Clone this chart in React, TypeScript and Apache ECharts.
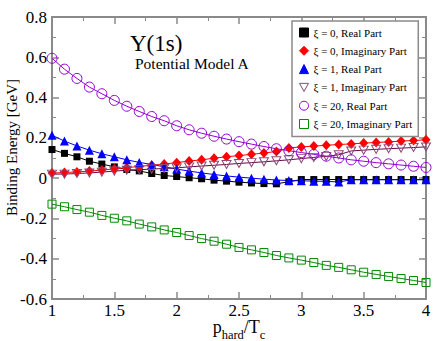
import React, { useEffect, useRef } from 'react';
import * as echarts from 'echarts';

const xValues = [1.0, 1.1, 1.2, 1.3, 1.4, 1.5, 1.6, 1.7, 1.8, 1.9, 2.0, 2.1, 2.2, 2.3, 2.4, 2.5, 2.6, 2.7, 2.8, 2.9, 3.0, 3.1, 3.2, 3.3, 3.4, 3.5, 3.6, 3.7, 3.8, 3.9, 4.0];

const xi0Real = [0.142, 0.123, 0.106, 0.084, 0.070, 0.056, 0.043, 0.036, 0.023, 0.013, 0.008, 0.002, -0.003, -0.010, -0.015, -0.020, -0.024, -0.027, -0.028, -0.018, -0.007, -0.007, -0.007, -0.007, -0.007, -0.007, -0.007, -0.007, -0.007, -0.007, -0.007];
const xi0Imag = [0.025, 0.028, 0.031, 0.035, 0.040, 0.046, 0.052, 0.058, 0.064, 0.070, 0.077, 0.085, 0.091, 0.099, 0.106, 0.112, 0.118, 0.125, 0.132, 0.150, 0.155, 0.159, 0.163, 0.167, 0.170, 0.174, 0.177, 0.180, 0.184, 0.187, 0.190];
const xi1Real = [0.213, 0.184, 0.160, 0.139, 0.121, 0.106, 0.091, 0.078, 0.068, 0.056, 0.045, 0.035, 0.026, 0.018, 0.011, 0.005, 0.000, -0.005, -0.009, -0.012, -0.013, -0.015, -0.016, -0.019, -0.008, -0.008, -0.008, -0.008, -0.008, -0.008, -0.008];
const xi1Imag = [0.020, 0.020, 0.023, 0.026, 0.030, 0.035, 0.039, 0.042, 0.045, 0.048, 0.051, 0.056, 0.060, 0.064, 0.068, 0.073, 0.077, 0.081, 0.086, 0.091, 0.097, 0.103, 0.108, 0.116, 0.135, 0.139, 0.143, 0.146, 0.149, 0.152, 0.155];
const xi20Real = [0.595, 0.541, 0.495, 0.452, 0.419, 0.386, 0.357, 0.331, 0.306, 0.285, 0.260, 0.240, 0.223, 0.208, 0.194, 0.181, 0.169, 0.157, 0.146, 0.136, 0.127, 0.118, 0.109, 0.100, 0.091, 0.084, 0.077, 0.071, 0.065, 0.059, 0.053];
const xi20Imag = [-0.129, -0.142, -0.156, -0.169, -0.185, -0.199, -0.212, -0.228, -0.242, -0.257, -0.270, -0.285, -0.300, -0.313, -0.328, -0.344, -0.356, -0.369, -0.384, -0.396, -0.407, -0.419, -0.433, -0.443, -0.455, -0.467, -0.478, -0.488, -0.498, -0.508, -0.518];

const seriesNames = [
  'ξ = 0, Real Part',
  'ξ = 0, Imaginary Part',
  'ξ = 1, Real Part',
  'ξ = 1, Imaginary Part',
  'ξ = 20, Real Part',
  'ξ = 20, Imaginary Part',
];

const FONT = 'Liberation Serif';
const AXIS_GRAY = '#8a8a8a';
const DOWN_TRI = 'path://M0,0L10,0L5,9Z';

const pairs = (ys: number[]) => xValues.map((x, i) => [x, ys[i]]);

export default function App() {
  const ref = useRef<HTMLDivElement>(null);
  useEffect(() => {
    if (!ref.current) return;
    document.body.style.margin = '0';
    const chart = echarts.init(ref.current, undefined, { renderer: 'svg' });

    const tickCommon = {
      axisLine: { show: false, onZero: false },
      axisTick: { show: true, inside: true, length: 7, lineStyle: { color: AXIS_GRAY, width: 1.5 } },
      minorTick: { show: true, splitNumber: 2, length: 4, lineStyle: { color: AXIS_GRAY, width: 1 } },
      splitLine: { show: false },
      minorSplitLine: { show: false },
    };

    const mk = (
      name: string,
      data: number[],
      color: string,
      symbol: string,
      size: number | number[],
      hollow: boolean,
      lineColor?: string
    ) => ({
      name,
      type: 'line',
      data: pairs(data),
      symbol,
      symbolSize: size,
      showAllSymbol: true,
      lineStyle: { color: lineColor || color, width: 1 },
      itemStyle: hollow
        ? { color: 'rgba(255,255,255,0)', borderColor: color, borderWidth: 1 }
        : { color, borderColor: color, borderWidth: 0 },
      emphasis: { disabled: true },
    });

    chart.setOption({
      animation: false,
      backgroundColor: '#ffffff',
      textStyle: { fontFamily: FONT },
      title: [
        {
          text: 'Υ(1s)',
          left: 130,
          top: 32,
          padding: 0,
          textStyle: { fontFamily: FONT, fontSize: 23, fontWeight: 'normal', color: '#000' },
        },
        {
          text: 'Potential Model A',
          left: 135,
          top: 55,
          padding: 0,
          textStyle: { fontFamily: FONT, fontSize: 15.5, fontWeight: 'normal', color: '#000' },
        },
      ],
      legend: {
        orient: 'vertical',
        left: 292,
        top: 21,
        padding: [5, 6, 6, 7],
        itemGap: 5.3,
        itemWidth: 9,
        itemHeight: 9,
        backgroundColor: '#ffffff',
        borderColor: AXIS_GRAY,
        borderWidth: 1.5,
        borderRadius: 0,
        selectedMode: false,
        textStyle: { fontFamily: FONT, fontSize: 11, color: '#000', lineHeight: 13 },
        itemStyle: { borderWidth: 1 },
        data: [
          { name: seriesNames[0], icon: 'rect' },
          { name: seriesNames[1], icon: 'diamond' },
          { name: seriesNames[2], icon: 'triangle' },
          { name: seriesNames[3], icon: DOWN_TRI },
          { name: seriesNames[4], icon: 'circle' },
          { name: seriesNames[5], icon: 'rect' },
        ],
      },
      grid: {
        left: 52,
        right: 16,
        top: 17,
        bottom: 42,
        containLabel: false,
        outerBoundsMode: 'none',
        show: true,
        borderColor: AXIS_GRAY,
        borderWidth: 2,
        backgroundColor: 'transparent',
      },
      xAxis: [
        {
          type: 'value',
          min: 1,
          max: 4,
          interval: 0.5,
          position: 'bottom',
          ...tickCommon,
          axisLabel: { fontFamily: FONT, fontSize: 17, color: '#000', margin: 3 },
          name: '{m|p}{s|hard}{m|/T}{s|c}',
          nameLocation: 'middle',
          nameGap: 19,
          nameMoveOverlap: false,
          nameTextStyle: {
            verticalAlign: 'top',
            rich: {
              m: { fontFamily: FONT, fontSize: 18, color: '#000', lineHeight: 18, verticalAlign: 'top' },
              s: { fontFamily: FONT, fontSize: 12.5, color: '#000', lineHeight: 12.5, padding: [10, 0, 0, 0], verticalAlign: 'top' },
            },
          },
        },
        {
          type: 'value',
          min: 1,
          max: 4,
          interval: 0.5,
          position: 'top',
          ...tickCommon,
          axisLabel: { show: false },
        },
      ],
      yAxis: [
        {
          type: 'value',
          min: -0.6,
          max: 0.8,
          interval: 0.2,
          position: 'left',
          ...tickCommon,
          axisLabel: { fontFamily: FONT, fontSize: 17, color: '#000', margin: 5 },
          name: 'Binding Energy [GeV]',
          nameLocation: 'middle',
          nameGap: 33,
          nameMoveOverlap: false,
          nameTextStyle: { fontFamily: FONT, fontSize: 15, color: '#000', padding: [0, 0, 0, 21] },
        },
        {
          type: 'value',
          min: -0.6,
          max: 0.8,
          interval: 0.2,
          position: 'right',
          ...tickCommon,
          axisLabel: { show: false },
        },
      ],
      series: [
        mk(seriesNames[0], xi0Real, '#000000', 'rect', 7, false),
        mk(seriesNames[1], xi0Imag, '#ff0000', 'diamond', [9, 10], false),
        mk(seriesNames[2], xi1Real, '#0000ff', 'triangle', 9, false),
        mk(seriesNames[3], xi1Imag, '#8c4a78', DOWN_TRI, [9, 8], true, '#670748'),
        mk(seriesNames[4], xi20Real, '#9400d3', 'circle', 10, true),
        mk(seriesNames[5], xi20Imag, '#008b00', 'rect', 8, true),
      ],
    });
    return () => chart.dispose();
  }, []);
  return <div ref={ref} style={{ width: 442, height: 341 }} />;
}
